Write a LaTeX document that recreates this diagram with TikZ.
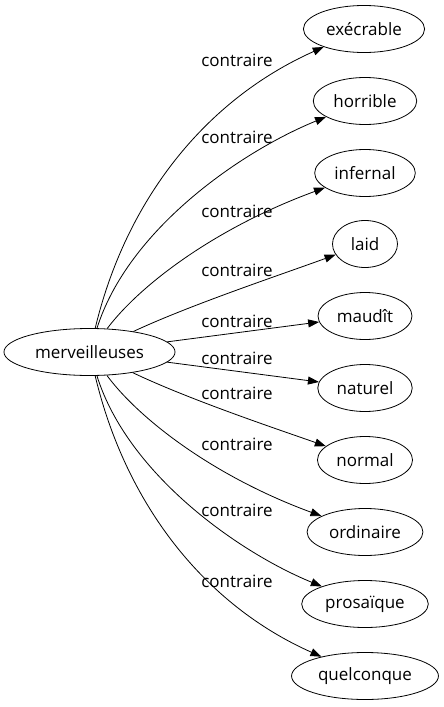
\documentclass[tikz,border=0pt]{standalone}
\usepackage{fontspec}
\setmainfont{Open Sans}
\usetikzlibrary{shapes.geometric,arrows.meta}

\begin{document}
\begin{tikzpicture}[x=1pt,y=-1pt,
  word/.style={ellipse,draw,line width=0.8pt,minimum height=47pt,minimum width=65pt,inner xsep=5pt,font=\fontsize{17}{20}\selectfont},
  rel/.style={font=\fontsize{17}{20}\selectfont,inner sep=0pt},
  link/.style={line width=0.8pt,-{Triangle[length=11pt,width=8pt]}}]
\useasboundingbox (0,0) rectangle (444,707);
% source word
\node[word,inner xsep=6pt] (mer) at (89.5,352) {merveilleuses};
% antonyms
\node[word] (execrable) at (364,29) {exécrable};
\node[word] (horrible) at (365,101) {horrible};
\node[word] (infernal) at (365,173) {infernal};
\node[word] (laid) at (365,244) {laid};
\node[word] (maudit) at (365,316) {maudît};
\node[word] (naturel) at (365,388) {naturel};
\node[word] (normal) at (365,460) {normal};
\node[word] (ordinaire) at (365,532) {ordinaire};
\node[word] (prosaique) at (365,604) {prosaïque};
\node[word] (quelconque) at (365,676) {quelconque};
% edge labels
\node[rel] (c1) at (237,60) {contraire};
\node[rel] (c2) at (237,137) {contraire};
\node[rel] (c3) at (237,211) {contraire};
\node[rel] (c4) at (237,270) {contraire};
\node[rel] (c5) at (237,321) {contraire};
\node[rel] (c6) at (237,358) {contraire};
\node[rel] (c7) at (237,393) {contraire};
\node[rel] (c8) at (237,444) {contraire};
\node[rel] (c9) at (237,510) {contraire};
\node[rel] (c10) at (237,581) {contraire};
% edges
\draw[link] (mer) .. controls (126,200) and (205,100) .. (execrable);
\draw[link] (mer) .. controls (128,230) and (240,152) .. (horrible);
\draw[link] (mer) .. controls (140,285) and (215,228) .. (infernal);
\draw[link] (mer) .. controls (190,305) and (280,275) .. (laid);
\draw[link] (mer) -- (maudit);
\draw[link] (mer) -- (naturel);
\draw[link] (mer) .. controls (190,400) and (280,430) .. (normal);
\draw[link] (mer) .. controls (140,420) and (215,477) .. (ordinaire);
\draw[link] (mer) .. controls (128,475) and (240,553) .. (prosaique);
\draw[link] (mer) .. controls (126,505) and (205,605) .. (quelconque);
\end{tikzpicture}
\end{document}
